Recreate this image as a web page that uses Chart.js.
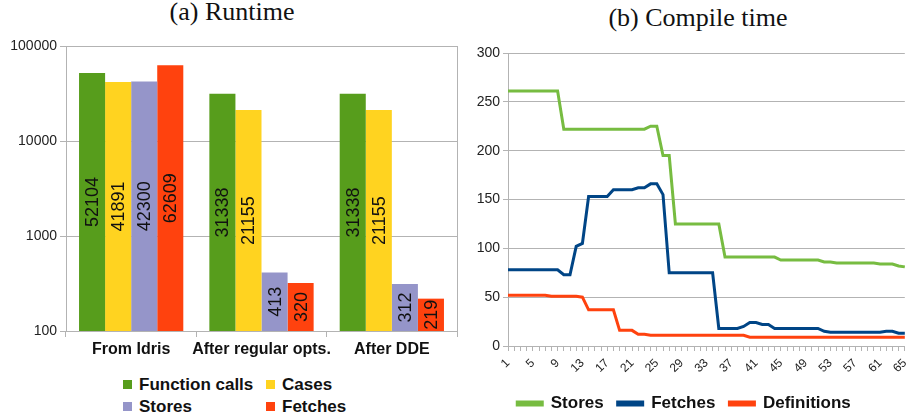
<!DOCTYPE html>
<html>
<head>
<meta charset="utf-8">
<script src="https://cdn.jsdelivr.net/npm/chart.js@4.4.1/dist/chart.umd.min.js"></script>
<style>
  body { margin: 0; width: 907px; height: 418px; overflow: hidden; position: relative; background: #fff; font-family: "Liberation Sans", Arial, sans-serif; }
  .title { position: absolute; font-family: "Liberation Serif", serif; font-size: 26px; color: #111; white-space: nowrap; transform: translateX(-50%); }
  #wrap-a { position: absolute; left: 0; top: 30px; width: 460px; height: 340px; }
  #wrap-b { position: absolute; left: 460px; top: 30px; width: 460px; height: 392px; }
  .legend-a { position: absolute; font-weight: bold; font-size: 17px; color: #111; white-space: nowrap; }
  .legend-a span.box { display: inline-block; width: 9px; height: 9px; margin-right: 7px; vertical-align: 1px; }
</style>
</head>
<body>
<div class="title" style="left:232px; top:-3px;">(a) Runtime</div>
<div class="title" style="left:698px; top:3px;">(b) Compile time</div>
<div id="wrap-a"><canvas id="runtime"></canvas></div>
<div id="wrap-b"><canvas id="compile"></canvas></div>
<div id="legend-a"></div>
<script>
// (a) Runtime data
const stages = ["From Idris", "After regular opts.", "After DDE"];
const functionCalls = [52104, 31338, 31338];
const cases = [41891, 21155, 21155];
const stores = [42300, 413, 312];
const fetches = [62609, 320, 219];

// (b) Compile time data
const passes = [];
for (let i = 1; i <= 65; i++) passes.push(String(i));
const storesCompile = [
  261, 261, 261, 261, 261, 261, 261, 261, 261,
  222, 222, 222, 222, 222, 222, 222, 222, 222, 222, 222, 222, 222, 222,
  225, 225, 195, 195,
  125, 125, 125, 125, 125, 125, 125, 125,
  91, 91, 91, 91, 91, 91, 91, 91, 91,
  88, 88, 88, 88, 88, 88, 88,
  86, 86,
  85, 85, 85, 85, 85, 85, 85,
  84, 84, 84, 82, 81
];
const fetchesCompile = [
  78, 78, 78, 78, 78, 78, 78, 78, 78,
  73, 73, 102, 105,
  153, 153, 153, 153,
  160, 160, 160, 160,
  162, 162, 166, 166, 155,
  75, 75, 75, 75, 75, 75, 75, 75,
  18, 18, 18, 18, 20, 24, 24, 22, 22,
  18, 18, 18, 18, 18, 18, 18, 18,
  15, 14, 14, 14, 14, 14, 14, 14, 14, 14,
  15, 15, 13, 13
];
const definitions = [
  52, 52, 52, 52, 52, 52, 52,
  51, 51, 51, 51, 51, 50,
  37, 37, 37, 37, 37,
  16, 16, 16, 12, 12,
  11, 11, 11, 11, 11, 11, 11, 11, 11, 11, 11, 11, 11, 11, 11, 11,
  9, 9, 9, 9, 9, 9, 9, 9, 9, 9, 9, 9, 9, 9, 9, 9, 9, 9, 9, 9, 9, 9, 9, 9, 9, 9
];

const barColors = ["#579d1c", "#ffd320", "#9595c9", "#ff420e"];
const barNames = ["Function calls", "Cases", "Stores", "Fetches"];
const gridColor = "#b3b3b3";

// value labels written vertically in the middle of each bar
const barValueLabels = {
  id: "barValueLabels",
  afterDatasetsDraw(chart) {
    const ctx = chart.ctx;
    ctx.save();
    ctx.font = "18px 'Liberation Sans', Arial, sans-serif";
    ctx.fillStyle = "#111";
    ctx.textAlign = "center";
    ctx.textBaseline = "middle";
    chart.data.datasets.forEach((ds, di) => {
      chart.getDatasetMeta(di).data.forEach((bar, i) => {
        const y = (bar.y + bar.base) / 2;
        ctx.save();
        ctx.translate(bar.x, y);
        ctx.rotate(-Math.PI / 2);
        ctx.fillText(String(ds.data[i]), 0, 1);
        ctx.restore();
      });
    });
    ctx.restore();
  },
};

// thin frame line on the right of the runtime plot
const rightFrame = {
  id: "rightFrame",
  beforeDatasetsDraw(chart) {
    const { ctx, chartArea } = chart;
    ctx.save();
    ctx.strokeStyle = gridColor;
    ctx.lineWidth = 1;
    ctx.beginPath();
    ctx.moveTo(chartArea.right + 0.5, chartArea.top);
    ctx.lineTo(chartArea.right + 0.5, chartArea.bottom);
    ctx.stroke();
    ctx.restore();
  },
};

new Chart(document.getElementById("runtime").getContext("2d"), {
  type: "bar",
  data: {
    labels: stages,
    datasets: [functionCalls, cases, stores, fetches].map((d, i) => ({
      label: barNames[i],
      data: d,
      backgroundColor: barColors[i],
      borderWidth: 0,
      categoryPercentage: 0.8,
      barPercentage: 1.0,
    })),
  },
  options: {
    responsive: true,
    maintainAspectRatio: false,
    animation: false,
    layout: { padding: { top: 16, right: 3, left: 0, bottom: 0 } },
    plugins: { legend: { display: false }, tooltip: { enabled: false } },
    scales: {
      x: {
        grid: { offset: true, drawOnChartArea: false, color: gridColor, tickLength: 6 },
        border: { color: gridColor },
        ticks: {
          color: "#111",
          padding: 3,
          autoSkip: false,
          minRotation: 0,
          maxRotation: 0,
          font: { size: 16, weight: "bold", family: "'Liberation Sans', Arial, sans-serif" },
        },
        afterFit: (scale) => { scale.height = 39; },
      },
      y: {
        type: "logarithmic",
        min: 100,
        max: 100000,
        afterBuildTicks: (scale) => {
          scale.ticks = [100, 1000, 10000, 100000].map((v) => ({ value: v }));
        },
        afterFit: (scale) => { scale.width = 66; },
        grid: { color: gridColor, tickLength: 6 },
        border: { color: gridColor },
        ticks: { color: "#222", padding: 3, font: { size: 14, family: "'Liberation Sans', Arial, sans-serif" }, callback: (v) => String(v) },
      },
    },
  },
  plugins: [barValueLabels, rightFrame],
});

// html legend for the runtime chart (two aligned columns)
const legendA = document.getElementById("legend-a");
const legendPos = [[123, 375], [266, 375], [123, 397], [266, 397]];
barNames.forEach((name, i) => {
  const item = document.createElement("div");
  item.className = "legend-a";
  item.style.left = legendPos[i][0] + "px";
  item.style.top = legendPos[i][1] + "px";
  item.innerHTML = `<span class="box" style="background:${barColors[i]}"></span>${name}`;
  legendA.appendChild(item);
});

new Chart(document.getElementById("compile").getContext("2d"), {
  type: "line",
  data: {
    labels: passes,
    datasets: [
      { label: "Stores", data: storesCompile, borderColor: "#77bc41", backgroundColor: "#77bc41" },
      { label: "Fetches", data: fetchesCompile, borderColor: "#004586", backgroundColor: "#004586" },
      { label: "Definitions", data: definitions, borderColor: "#ff420e", backgroundColor: "#ff420e" },
    ].map((ds) => ({ ...ds, borderWidth: 3, pointRadius: 0, tension: 0, fill: false })),
  },
  options: {
    responsive: true,
    maintainAspectRatio: false,
    animation: false,
    layout: { padding: { top: 23, right: 12, left: 0, bottom: 0 } },
    plugins: {
      tooltip: { enabled: false },
      legend: {
        position: "bottom",
        labels: {
          color: "#111",
          boxWidth: 25,
          boxHeight: 3,
          padding: 14,
          font: { size: 17, weight: "bold", family: "'Liberation Sans', Arial, sans-serif" },
        },
      },
    },
    scales: {
      x: {
        grid: { drawOnChartArea: false, color: gridColor, tickLength: 5 },
        border: { color: gridColor },
        ticks: {
          color: "#222",
          autoSkip: false,
          minRotation: 45,
          maxRotation: 60,
          padding: 5,
          font: { size: 12, family: "'Liberation Sans', Arial, sans-serif" },
          callback: (v, i) => (i % 4 === 0 ? passes[i] : ""),
        },
        afterFit: (scale) => { scale.height = 35; },
      },
      y: {
        min: 0,
        max: 300,
        afterFit: (scale) => { scale.width = 48; },
        grid: { color: gridColor, tickLength: 5 },
        border: { color: gridColor },
        ticks: { stepSize: 50, color: "#222", padding: 3, font: { size: 14, family: "'Liberation Sans', Arial, sans-serif" } },
      },
    },
  },
});
</script>
</body>
</html>
